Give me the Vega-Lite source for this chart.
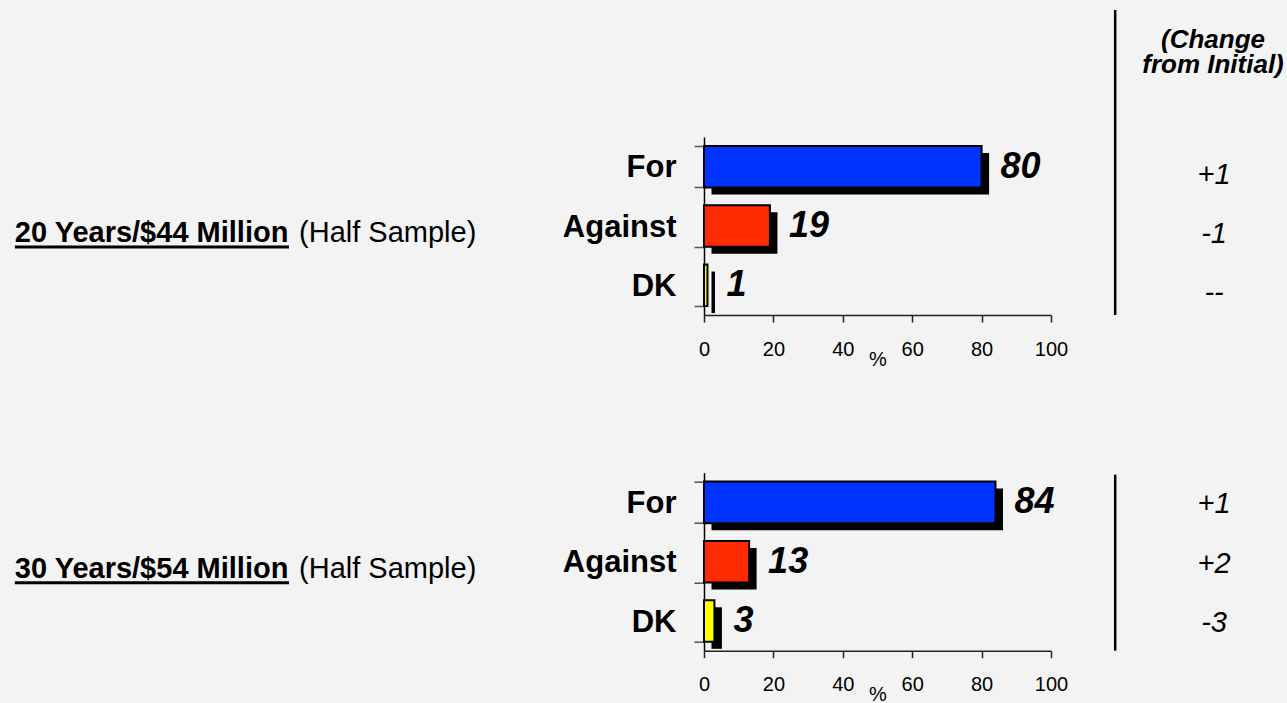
{
  "$schema": "https://vega.github.io/schema/vega-lite/v6.json",
  "background": "#f3f3f3",
  "padding": {"left": 13, "top": 8, "right": 4, "bottom": 0},
  "bounds": "flush",
  "spacing": 157.7,
  "config": {
    "view": {"stroke": null},
    "font": "Liberation Sans",
    "axis": {"grid": false},
    "axisY": {"labelFontSize": 31, "labelFontWeight": "bold", "labelColor": "black", "labelPadding": 18, "tickSize": 10, "tickColor": "#555", "tickWidth": 1.5, "domainColor": "black", "domainWidth": 1.5, "tickBand": "extent", "labelOffset": 1, "labelFont": "Liberation Sans"},
    "axisX": {"labelFontSize": 20, "labelColor": "black", "tickSize": 7, "tickColor": "#222", "tickWidth": 1.5, "domainColor": "#222", "domainWidth": 1.5, "labelPadding": 17, "titleFontSize": 20, "titleFontWeight": "normal", "titleColor": "black", "titlePadding": -10, "labelFlush": false, "labelFont": "Liberation Sans", "titleFont": "Liberation Sans"}
  },
  "vconcat": [
    {
      "width": 347,
      "height": 178,
      "title": {"text": ["(Change", "from Initial)"], "frame": "group", "anchor": "end", "align": "center", "dx": 162, "fontSize": 26, "fontStyle": "italic", "fontWeight": "bold", "lineHeight": 25, "offset": -69, "font": "Liberation Sans", "color": "black"},
      "data": {"values": [
        {"cat": "For", "pct": 80, "change": "+1"},
        {"cat": "Against", "pct": 19, "change": "-1"},
        {"cat": "DK", "pct": 1, "change": "--"}
      ]},
      "layer": [
        {
          "mark": {"type": "bar", "color": "black", "xOffset": 7.5, "x2Offset": 3.7, "yOffset": 7},
          "encoding": {
            "x": {"field": "pct", "type": "quantitative", "title": "%", "scale": {"domain": [0, 100], "nice": false}, "axis": {"values": [0, 20, 40, 60, 80, 100]}},
            "y": {"field": "cat", "type": "nominal", "title": null, "scale": {"domain": ["For", "Against", "DK"], "paddingInner": 0.3, "paddingOuter": 0.15}}
          }
        },
        {
          "mark": {"type": "bar", "stroke": "black", "strokeWidth": 2},
          "encoding": {
            "x": {"field": "pct", "type": "quantitative", "title": "%"},
            "y": {"field": "cat", "type": "nominal", "title": null, "scale": {"domain": ["For", "Against", "DK"]}},
            "fill": {"field": "cat", "type": "nominal", "scale": {"domain": ["For", "Against", "DK"], "range": ["#0033ff", "#ff2a00", "#ffff00"]}, "legend": null}
          }
        },
        {
          "mark": {"type": "text", "align": "left", "baseline": "middle", "dx": 19, "fontSize": 36, "fontWeight": "bold", "fontStyle": "italic", "color": "black"},
          "encoding": {
            "x": {"field": "pct", "type": "quantitative", "title": "%"},
            "y": {"field": "cat", "type": "nominal", "title": null, "scale": {"domain": ["For", "Against", "DK"]}},
            "text": {"field": "pct", "type": "quantitative"}
          }
        },
        {
          "mark": {"type": "text", "align": "center", "baseline": "middle", "dy": 8, "fontSize": 29, "fontStyle": "italic", "color": "black"},
          "encoding": {
            "x": {"datum": 147, "type": "quantitative"},
            "y": {"field": "cat", "type": "nominal", "title": null, "scale": {"domain": ["For", "Against", "DK"]}},
            "text": {"field": "change", "type": "nominal"}
          }
        },
        {
          "data": {"values": [{"label": "20 Years/$44 Million", "note": "(Half Sample)"}]},
          "layer": [
            {
              "mark": {"type": "rule", "strokeWidth": 2.5, "color": "black", "yOffset": -127, "y2Offset": 2},
              "encoding": {"x": {"datum": 118.5, "type": "quantitative"}}
            },
            {
              "mark": {"type": "text", "align": "left", "baseline": "alphabetic", "dy": 16, "fontSize": 29, "fontWeight": "bold", "color": "black"},
              "encoding": {
                "x": {"datum": -198.6, "type": "quantitative"},
                "y": {"datum": "Against", "type": "nominal"},
                "text": {"field": "label", "type": "nominal"}
              }
            },
            {
              "mark": {"type": "rule", "strokeWidth": 3, "color": "black", "yOffset": 21, "y2Offset": 21},
              "encoding": {
                "x": {"datum": -198.6, "type": "quantitative"},
                "x2": {"datum": -119.6},
                "y": {"datum": "Against", "type": "nominal"}
              }
            },
            {
              "mark": {"type": "text", "align": "left", "baseline": "alphabetic", "dy": 16, "fontSize": 29, "color": "black"},
              "encoding": {
                "x": {"datum": -116.7, "type": "quantitative"},
                "y": {"datum": "Against", "type": "nominal"},
                "text": {"field": "note", "type": "nominal"}
              }
            }
          ]
        }
      ]
    },
    {
      "width": 347,
      "height": 178,
      "data": {"values": [
        {"cat": "For", "pct": 84, "change": "+1"},
        {"cat": "Against", "pct": 13, "change": "+2"},
        {"cat": "DK", "pct": 3, "change": "-3"}
      ]},
      "layer": [
        {
          "mark": {"type": "bar", "color": "black", "xOffset": 7.5, "x2Offset": 3.7, "yOffset": 7},
          "encoding": {
            "x": {"field": "pct", "type": "quantitative", "title": "%", "scale": {"domain": [0, 100], "nice": false}, "axis": {"values": [0, 20, 40, 60, 80, 100]}},
            "y": {"field": "cat", "type": "nominal", "title": null, "scale": {"domain": ["For", "Against", "DK"], "paddingInner": 0.3, "paddingOuter": 0.15}}
          }
        },
        {
          "mark": {"type": "bar", "stroke": "black", "strokeWidth": 2},
          "encoding": {
            "x": {"field": "pct", "type": "quantitative", "title": "%"},
            "y": {"field": "cat", "type": "nominal", "title": null, "scale": {"domain": ["For", "Against", "DK"]}},
            "fill": {"field": "cat", "type": "nominal", "scale": {"domain": ["For", "Against", "DK"], "range": ["#0033ff", "#ff2a00", "#ffff00"]}, "legend": null}
          }
        },
        {
          "mark": {"type": "text", "align": "left", "baseline": "middle", "dx": 19, "fontSize": 36, "fontWeight": "bold", "fontStyle": "italic", "color": "black"},
          "encoding": {
            "x": {"field": "pct", "type": "quantitative", "title": "%"},
            "y": {"field": "cat", "type": "nominal", "title": null, "scale": {"domain": ["For", "Against", "DK"]}},
            "text": {"field": "pct", "type": "quantitative"}
          }
        },
        {
          "mark": {"type": "text", "align": "center", "baseline": "middle", "dy": 2, "fontSize": 29, "fontStyle": "italic", "color": "black"},
          "encoding": {
            "x": {"datum": 147, "type": "quantitative"},
            "y": {"field": "cat", "type": "nominal", "title": null, "scale": {"domain": ["For", "Against", "DK"]}},
            "text": {"field": "change", "type": "nominal"}
          }
        },
        {
          "data": {"values": [{"label": "30 Years/$54 Million", "note": "(Half Sample)"}]},
          "layer": [
            {
              "mark": {"type": "rule", "strokeWidth": 2.5, "color": "black", "yOffset": 2, "y2Offset": -4},
              "encoding": {"x": {"datum": 118.5, "type": "quantitative"}}
            },
            {
              "mark": {"type": "text", "align": "left", "baseline": "alphabetic", "dy": 16, "fontSize": 29, "fontWeight": "bold", "color": "black"},
              "encoding": {
                "x": {"datum": -198.6, "type": "quantitative"},
                "y": {"datum": "Against", "type": "nominal"},
                "text": {"field": "label", "type": "nominal"}
              }
            },
            {
              "mark": {"type": "rule", "strokeWidth": 3, "color": "black", "yOffset": 21, "y2Offset": 21},
              "encoding": {
                "x": {"datum": -198.6, "type": "quantitative"},
                "x2": {"datum": -119.6},
                "y": {"datum": "Against", "type": "nominal"}
              }
            },
            {
              "mark": {"type": "text", "align": "left", "baseline": "alphabetic", "dy": 16, "fontSize": 29, "color": "black"},
              "encoding": {
                "x": {"datum": -116.7, "type": "quantitative"},
                "y": {"datum": "Against", "type": "nominal"},
                "text": {"field": "note", "type": "nominal"}
              }
            }
          ]
        }
      ]
    }
  ]
}
